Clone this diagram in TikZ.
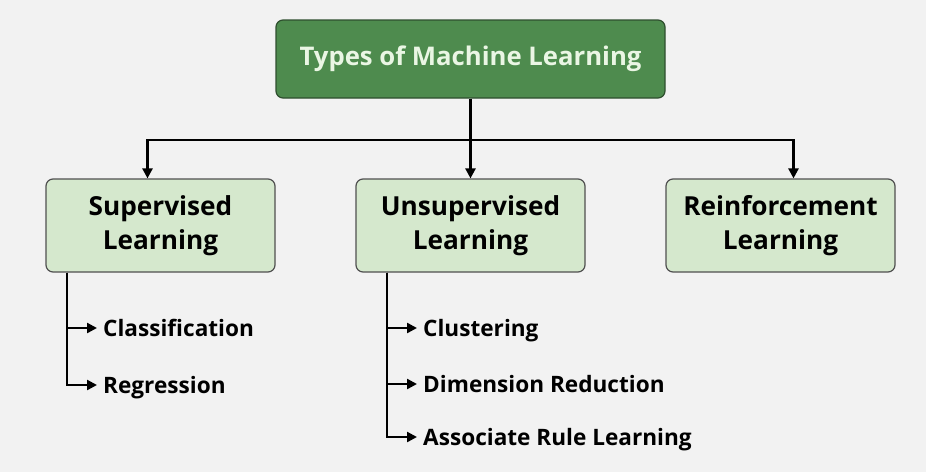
\documentclass[tikz,border=0pt]{standalone}
\usepackage{fontspec}
\setmainfont{Open Sans}
\usepackage{tikz}
\usetikzlibrary{arrows.meta}
\definecolor{bggray}{HTML}{F2F2F2}
\definecolor{darkgreen}{HTML}{4E8B4E}
\definecolor{darkedge}{HTML}{2F4F2F}
\definecolor{lightgreen}{HTML}{D5E8CD}
\definecolor{lightedge}{HTML}{505050}
\definecolor{paletext}{HTML}{EAF6E4}
\tikzset{>={Triangle[length=10pt,width=10pt]}}
\tikzset{
  headbox/.style={draw=darkedge, line width=1.2pt, fill=darkgreen, rounded corners=7pt,
    minimum width=389pt, minimum height=78pt, text=paletext, font=\bfseries\fontsize{25.7}{30}\selectfont},
  typebox/.style={draw=lightedge, line width=1.2pt, fill=lightgreen, rounded corners=7pt,
    minimum width=229pt, minimum height=93pt, align=center, font=\bfseries\fontsize{26.2}{34}\selectfont},
  leaf/.style={anchor=west, inner ysep=1pt, inner xsep=6pt, text height=16pt, text depth=0pt,
    font=\bfseries\fontsize{22.6}{27}\selectfont},
  link/.style={line width=2.4pt}
}
\begin{document}
\begin{tikzpicture}[x=1pt, y=-1pt]
\fill[bggray] (0,0) rectangle (926,472);
% root and the three kinds
\node[headbox] (types) at (470.5,59) {Types of Machine Learning};
\node[typebox] (sup) at (160.5,225.5) {Supervised\\Learning};
\node[typebox] (unsup) at (470.5,225.5) {Unsupervised\\Learning};
\node[typebox] (reinf) at (780.5,225.5) {Reinforcement\\Learning};
\coordinate (split) at (470.5,140);
\draw[link] (types.south) -- (split);
\draw[link,->] (split) -| ([xshift=-13pt]sup.north);
\draw[link,->] (split) -- (unsup.north);
\draw[link,->] (split) -| ([xshift=13pt]reinf.north);
% supervised
\coordinate (supstem) at ([xshift=-93.5pt]sup.south);
\node[leaf] (clf) at (97,328) {Classification};
\node[leaf] (regr) at (97,385) {Regression};
\draw[link,->] (supstem) |- (clf.west);
\draw[link,->] (supstem) |- (regr.west);
% unsupervised
\coordinate (unsupstem) at ([xshift=-83.5pt]unsup.south);
\node[leaf] (clus) at (417,328) {Clustering};
\node[leaf] (dimred) at (417,384) {Dimension Reduction};
\node[leaf] (assoc) at (417,437) {Associate Rule Learning};
\draw[link,->] (unsupstem) |- (clus.west);
\draw[link,->] (unsupstem) |- (dimred.west);
\draw[link,->] (unsupstem) |- (assoc.west);
\end{tikzpicture}
\end{document}
